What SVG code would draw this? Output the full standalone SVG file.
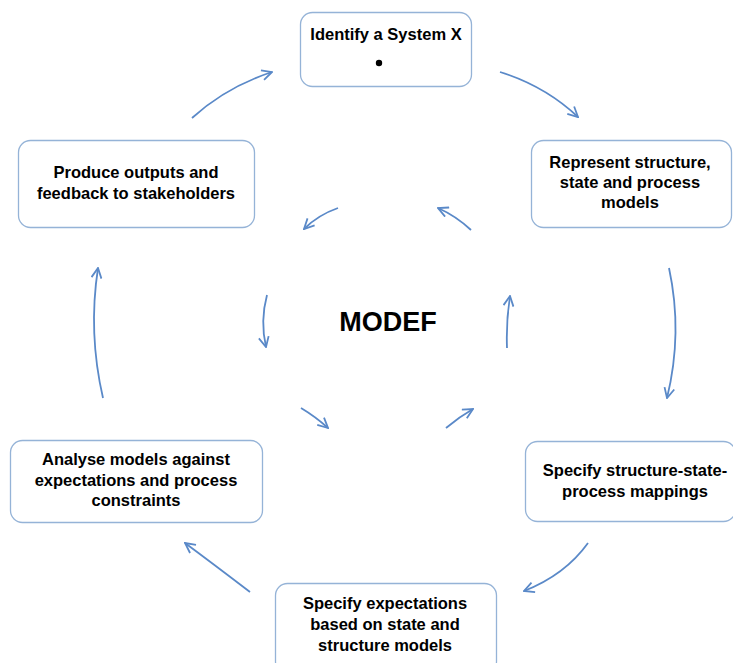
<svg xmlns="http://www.w3.org/2000/svg" width="733" height="663" viewBox="0 0 733 663">
<style>
.box{fill:#fff;stroke:#95B3D7;stroke-width:1.3}
.t{font-family:"Liberation Sans",Arial,sans-serif;font-weight:bold;font-size:16.5px;fill:#000;text-anchor:middle}
.c{fill:none;stroke:#5A89C8;stroke-width:1.8;marker-end:url(#ah)}
</style>
<defs>
<marker id="ah" viewBox="0 0 12 12" refX="11" refY="6" markerWidth="12" markerHeight="12" markerUnits="userSpaceOnUse" orient="auto">
<path d="M1,1 L11,6 L1,11" fill="none" stroke="#5A89C8" stroke-width="1.8"/>
</marker>
</defs>
<rect width="733" height="663" fill="#fff"/>
<g id="connectors">
<path class="c" d="M500,72 Q545,86 578,117"/>
<path class="c" d="M669,268 Q683,333 667,398"/>
<path class="c" d="M588,543 Q565,575 524,591"/>
<path class="c" d="M250,592 Q212,563 185,543"/>
<path class="c" d="M103,398 Q88,333 98,268"/>
<path class="c" d="M192,118 Q226,87 272,72"/>
<path class="c" d="M338,208 Q318,215 304,229"/>
<path class="c" d="M471,230 Q456,216 438,208"/>
<path class="c" d="M267,295 Q260,321 266,347"/>
<path class="c" d="M507,348 Q506,322 510,296"/>
<path class="c" d="M301,408 Q316,417 328,428"/>
<path class="c" d="M446,428 Q459,417 473,409"/>
</g>
<g id="n1">
<rect class="box" x="300.5" y="12.5" width="171" height="74" rx="12"/>
<text class="t" x="386" y="40">Identify a System X</text>
<circle cx="379" cy="63" r="3.2" fill="#000"/>
</g>
<g id="n2">
<rect class="box" x="531.5" y="140.5" width="200" height="87" rx="12"/>
<text class="t" x="630" y="168">Represent structure,</text>
<text class="t" x="630" y="188">state and process</text>
<text class="t" x="630" y="208">models</text>
</g>
<g id="n3">
<rect class="box" x="525.5" y="441.5" width="210" height="80" rx="12"/>
<text class="t" x="635" y="476">Specify structure-state-</text>
<text class="t" x="635" y="497">process mappings</text>
</g>
<g id="n4">
<rect class="box" x="275.5" y="583.5" width="221" height="90" rx="12"/>
<text class="t" x="385" y="609">Specify expectations</text>
<text class="t" x="385" y="630">based on state and</text>
<text class="t" x="385" y="651">structure models</text>
</g>
<g id="n5">
<rect class="box" x="10.5" y="440.5" width="252" height="82" rx="12"/>
<text class="t" x="136" y="465">Analyse models against</text>
<text class="t" x="136" y="486">expectations and process</text>
<text class="t" x="136" y="506">constraints</text>
</g>
<g id="n6">
<rect class="box" x="18.5" y="140.5" width="236" height="87" rx="12"/>
<text class="t" x="136" y="178">Produce outputs and</text>
<text class="t" x="136" y="199">feedback to stakeholders</text>
</g>
<g id="center">
<text x="388" y="331" font-family="Liberation Sans,Arial,sans-serif" font-weight="bold" font-size="27" text-anchor="middle">MODEF</text>
</g>
</svg>
